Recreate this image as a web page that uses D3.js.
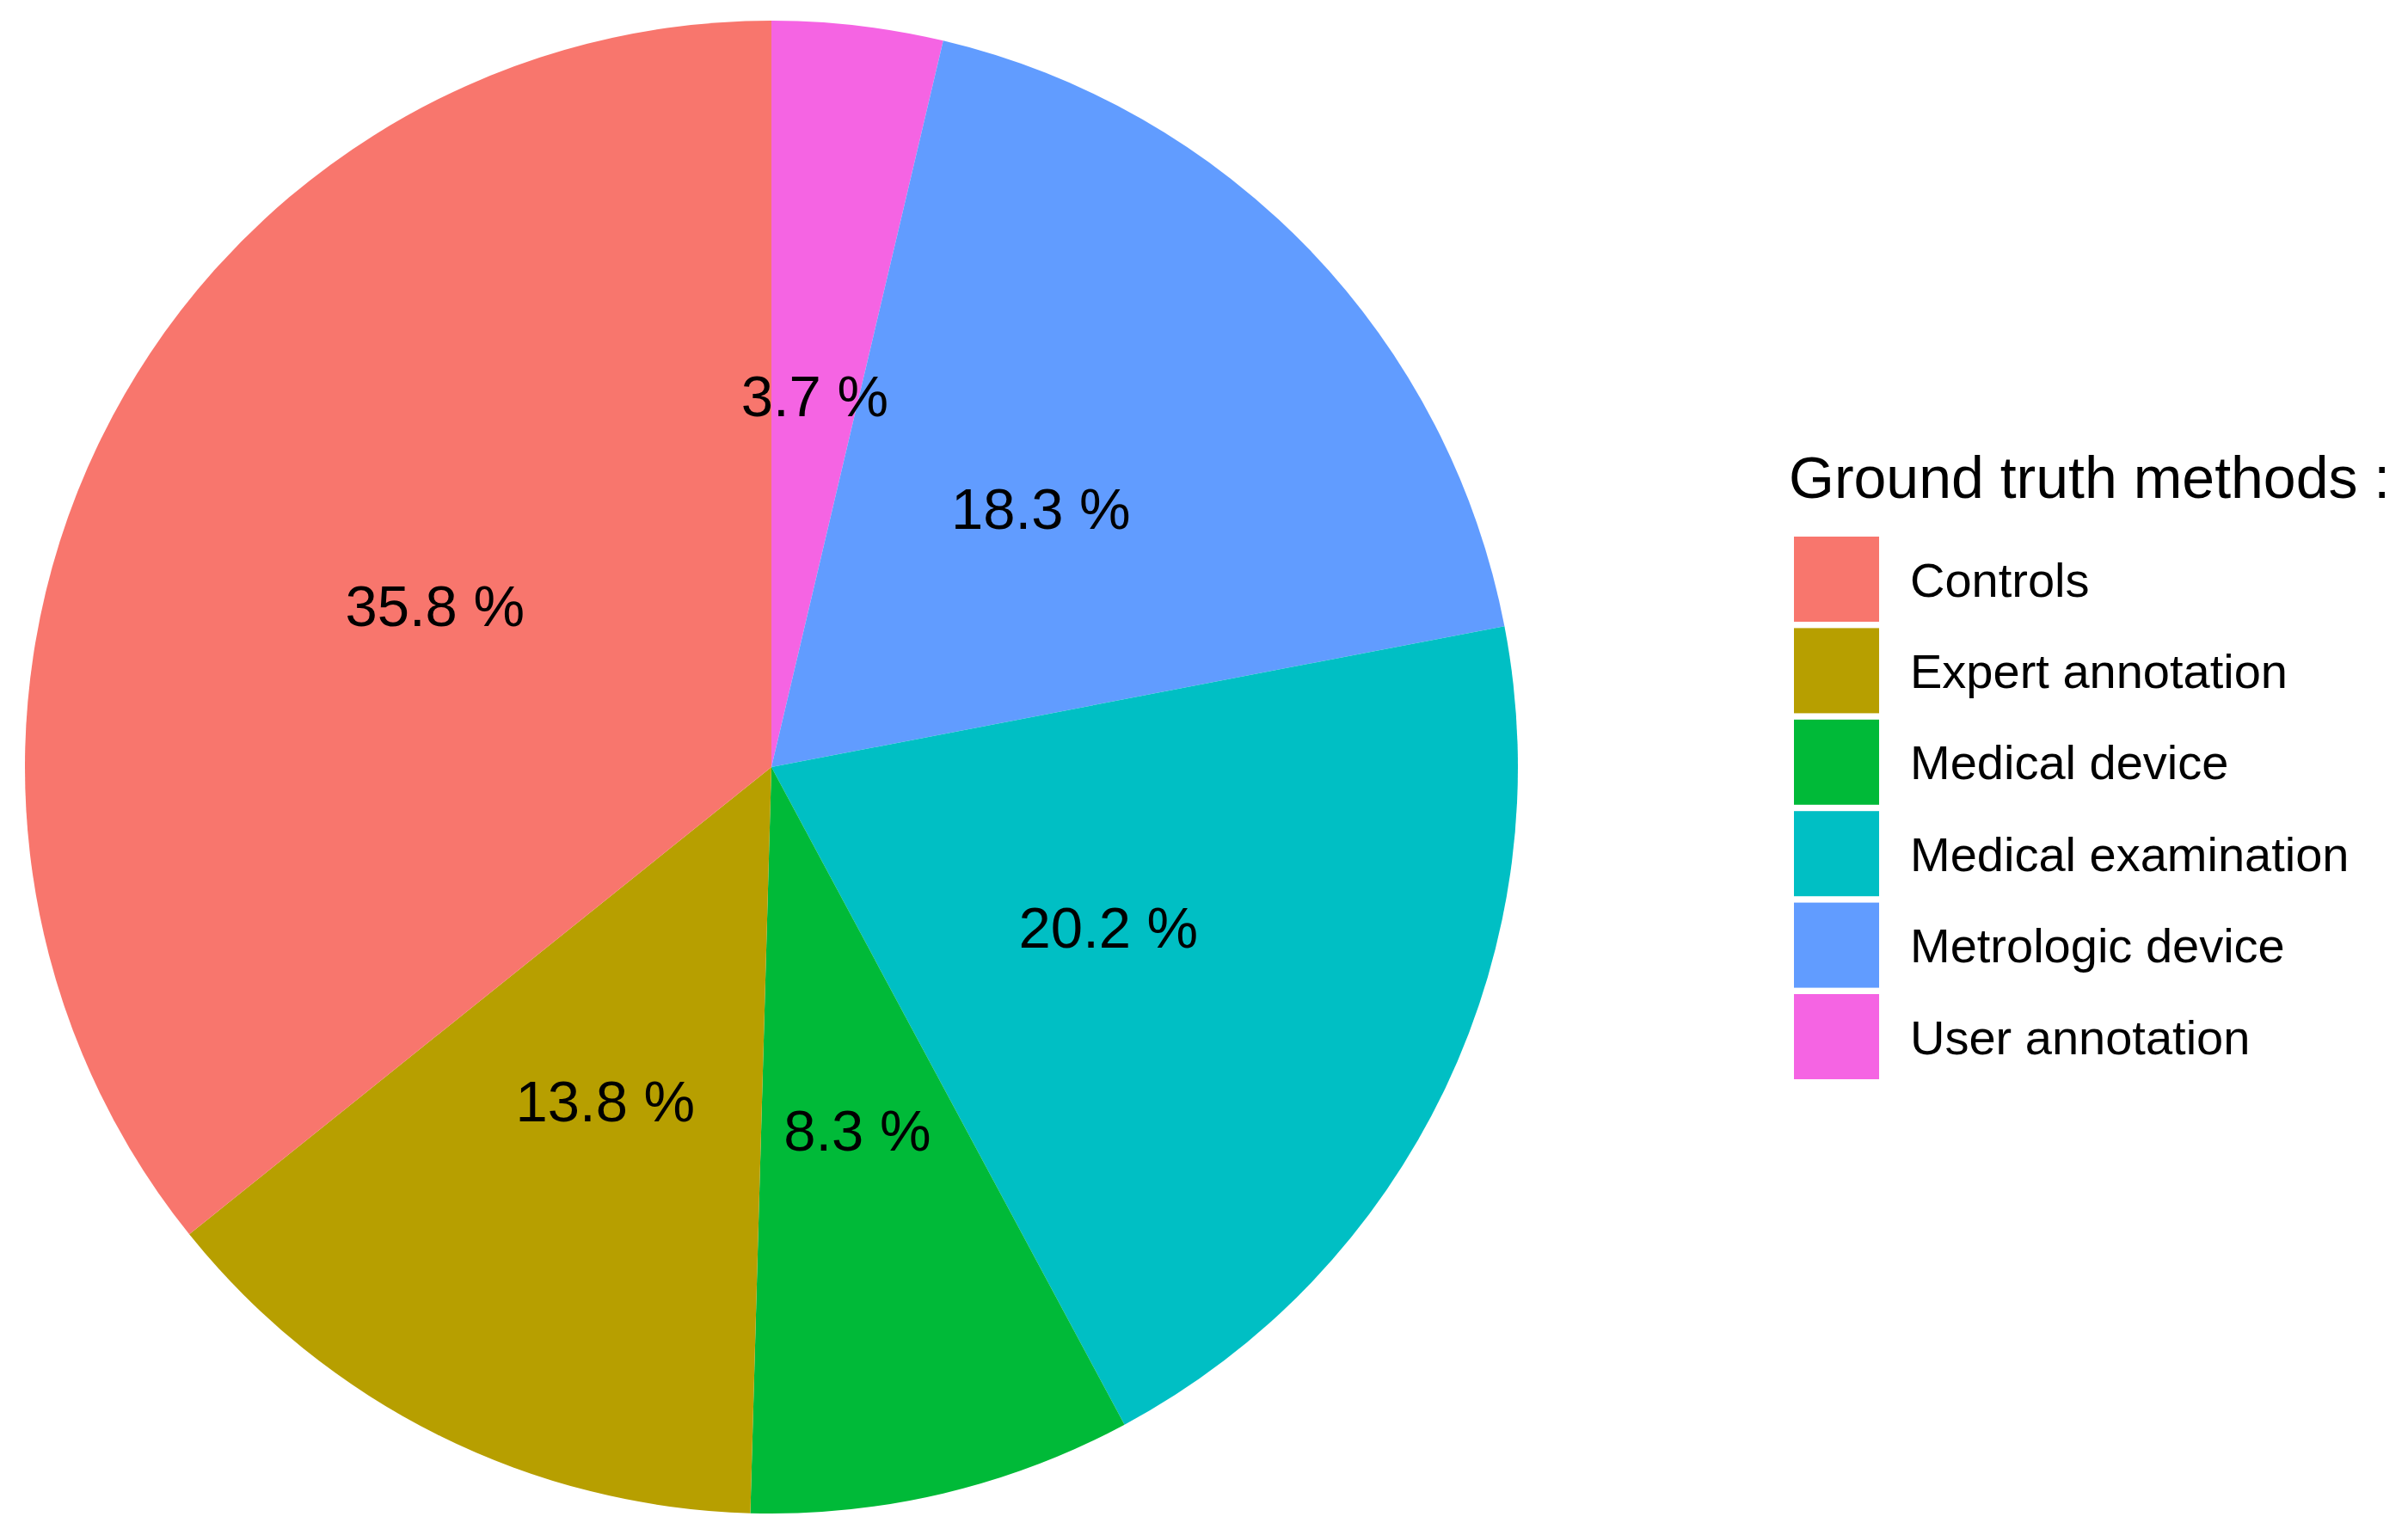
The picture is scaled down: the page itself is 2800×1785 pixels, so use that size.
<!DOCTYPE html>
<html>
<head>
<meta charset="utf-8">
<script src="https://cdn.jsdelivr.net/npm/d3@7"></script>
<style>
  body { margin: 0; background: #fff; }
  svg { display: block; font-family: "Liberation Sans", Arial, Helvetica, sans-serif; }
</style>
</head>
<body>
<svg id="chart" width="2800" height="1785"></svg>
<script>
// legend order (ggplot factor levels)
var categories = ["Controls", "Expert annotation", "Medical device", "Medical examination", "Metrologic device", "User annotation"]
var percents = [35.8, 13.8, 8.3, 20.2, 18.3, 3.7]
var colors = ["#F8766D", "#B79F00", "#00BA38", "#00BFC4", "#619CFF", "#F564E3"]
var legendTitle = "Ground truth methods :"

var width = 2800, height = 1785
var cx = 897, cy = 892, radius = 868

var svg = d3.select("#chart")
svg.append("rect").attr("width", width).attr("height", height).attr("fill", "#fff")

var color = d3.scaleOrdinal().domain(categories).range(colors)

// ggplot stacks in reverse, so going clockwise from 12 o'clock it's the last level first
var slices = categories.map(function(c, i) { return { cat: c, value: percents[i] } }).reverse()

var pie = d3.pie().sort(null).value(function(d) { return d.value })
var arcs = pie(slices)

var arc = d3.arc().innerRadius(0).outerRadius(radius)
var labelArc = d3.arc().innerRadius(radius / 2).outerRadius(radius / 2)

var g = svg.append("g").attr("transform", "translate(" + cx + "," + cy + ")")

g.selectAll("path")
    .data(arcs)
    .enter()
    .append("path")
    .attr("d", arc)
    .attr("fill", function(d) { return color(d.data.cat) })

// percent labels at half radius
g.selectAll("text.lab")
    .data(arcs)
    .enter()
    .append("text")
    .attr("class", "lab")
    .attr("transform", function(d) { return "translate(" + labelArc.centroid(d) + ")" })
    .attr("text-anchor", "middle")
    .attr("dy", "0.35em")
    .attr("font-size", "67px")
    .attr("fill", "#000")
    .text(function(d) { return d.data.value.toFixed(1) + " %" })

// Legend
var legend = svg.append("g").attr("transform", "translate(2086, 624)")
var keyStep = 106.4, keyW = 99, keyH = 99

legend.append("text")
    .attr("x", -6)
    .attr("y", -45)
    .attr("font-size", "68px")
    .attr("fill", "#000")
    .text(legendTitle)

var rows = legend.selectAll("g.row")
    .data(categories)
    .enter()
    .append("g")
    .attr("class", "row")
    .attr("transform", function(d, i) { return "translate(0," + (i * keyStep) + ")" })

rows.append("rect")
    .attr("width", keyW)
    .attr("height", keyH)
    .attr("fill", function(d) { return color(d) })

rows.append("text")
    .attr("x", 135)
    .attr("y", keyH / 2)
    .attr("dy", "0.36em")
    .attr("font-size", "56px")
    .attr("fill", "#000")
    .text(function(d) { return d })
</script>
</body>
</html>
